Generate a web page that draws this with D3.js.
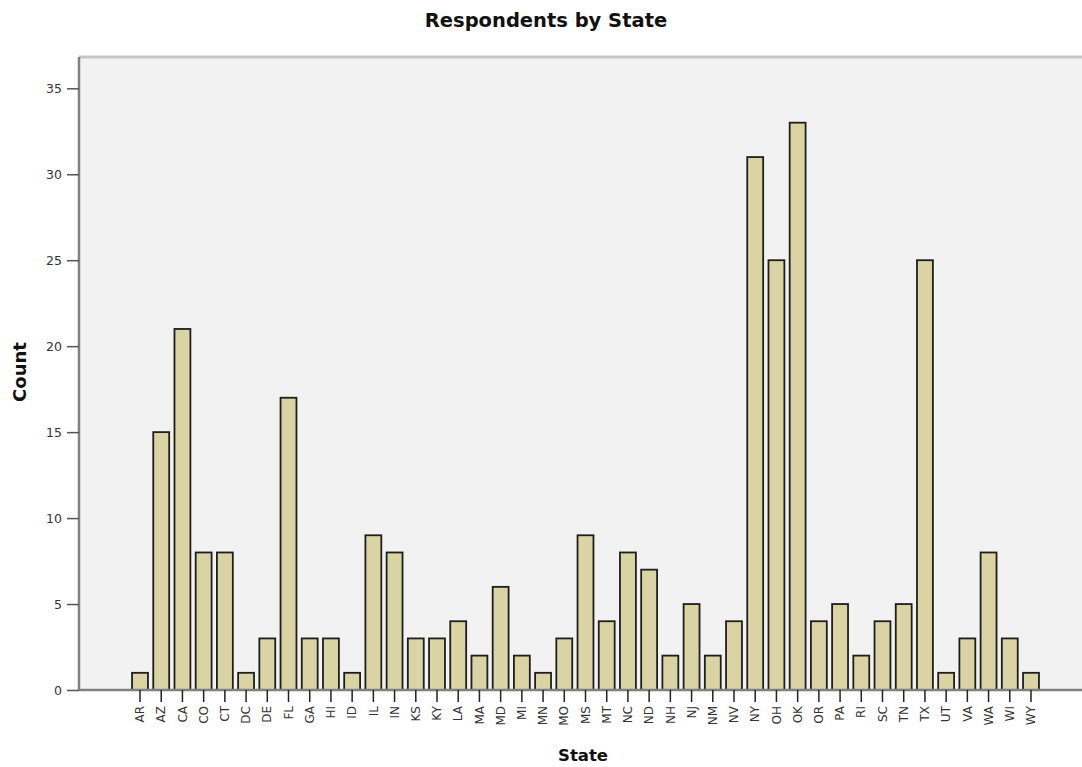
<!DOCTYPE html>
<html>
<head>
<meta charset="utf-8">
<script src="https://cdn.jsdelivr.net/npm/d3@7"></script>
<style>
  body { margin: 0; background: #fff; }
  svg { display: block; }
</style>
</head>
<body>
<div id="chart"></div>
<script>
const states = ["AR","AZ","CA","CO","CT","DC","DE","FL","GA","HI","ID","IL","IN","KS","KY","LA","MA","MD","MI","MN","MO","MS","MT","NC","ND","NH","NJ","NM","NV","NY","OH","OK","OR","PA","RI","SC","TN","TX","UT","VA","WA","WI","WY"];
const counts = [1,15,21,8,8,1,3,17,3,3,1,9,8,3,3,4,2,6,2,1,3,9,4,8,7,2,5,2,4,31,25,33,4,5,2,4,5,25,1,3,8,3,1];
const yTicks = [0,5,10,15,20,25,30,35];

const W = 1082, H = 767;
const plot = { left: 79, top: 57, right: 1090, bottom: 690 };

const svg = d3.select("#chart").append("svg").attr("width", W).attr("height", H);

const y = d3.scaleLinear().domain([0, 35]).range([690, 88.3]);
const x = d3.scaleBand().domain(states).range([129.4, 1041.6]).paddingInner(0.25).paddingOuter(0.125);

// plot background
svg.append("rect")
    .attr("x", plot.left).attr("y", plot.top)
    .attr("width", plot.right - plot.left).attr("height", plot.bottom - plot.top)
    .attr("fill", "#f2f2f2");
svg.append("line")
    .attr("x1", plot.left).attr("x2", plot.right)
    .attr("y1", plot.top).attr("y2", plot.top)
    .attr("stroke", "#c6c6c6").attr("stroke-width", 3);

// bars
svg.selectAll("rect.bar")
    .data(states)
    .enter()
    .append("rect")
    .attr("class", "bar")
    .attr("x", d => x(d))
    .attr("y", (d, i) => y(counts[i]))
    .attr("width", x.bandwidth())
    .attr("height", (d, i) => y(0) - y(counts[i]))
    .attr("fill", "#dad4a5")
    .attr("stroke", "#1e1e1e")
    .attr("stroke-width", 1.8);

// y axis
const yAxis = svg.append("g")
    .attr("transform", `translate(${plot.left},0)`)
    .call(d3.axisLeft(y).tickValues(yTicks).tickSize(12).tickPadding(5));
yAxis.select(".domain").attr("stroke", "#808080").attr("stroke-width", 2.5)
    .attr("d", `M0,${plot.top}V${plot.bottom}`);
yAxis.selectAll(".tick line").attr("stroke", "#555").attr("stroke-width", 1.5);
yAxis.selectAll(".tick text").attr("fill", "#333").attr("font-family", "DejaVu Sans")
    .attr("font-size", 12.5);

// x axis
const xAxis = svg.append("g")
    .attr("transform", `translate(0,${plot.bottom})`)
    .call(d3.axisBottom(x).tickSize(12).tickPadding(3));
xAxis.select(".domain").attr("stroke", "#808080").attr("stroke-width", 2.5)
    .attr("d", `M${plot.left},0H${plot.right}`);
xAxis.selectAll(".tick line").attr("stroke", "#222").attr("stroke-width", 1.5);
xAxis.selectAll(".tick text")
    .attr("fill", "#333").attr("font-family", "DejaVu Sans").attr("font-size", 12)
    .attr("text-anchor", "end")
    .attr("dy", "0.35em")
    .attr("transform", "translate(0,16) rotate(-90)")
    .attr("y", 0).attr("x", 0);

// titles
svg.append("text")
    .attr("x", 546).attr("y", 27)
    .attr("text-anchor", "middle")
    .attr("font-family", "DejaVu Sans").attr("font-weight", "bold").attr("font-size", 19.5)
    .attr("fill", "#111")
    .text("Respondents by State");

svg.append("text")
    .attr("x", 583).attr("y", 761)
    .attr("text-anchor", "middle")
    .attr("font-family", "DejaVu Sans").attr("font-weight", "bold").attr("font-size", 16.5)
    .attr("fill", "#111")
    .text("State");

svg.append("text")
    .attr("transform", "translate(26,372) rotate(-90)")
    .attr("text-anchor", "middle")
    .attr("font-family", "DejaVu Sans").attr("font-weight", "bold").attr("font-size", 18)
    .attr("fill", "#111")
    .text("Count");
</script>
</body>
</html>
